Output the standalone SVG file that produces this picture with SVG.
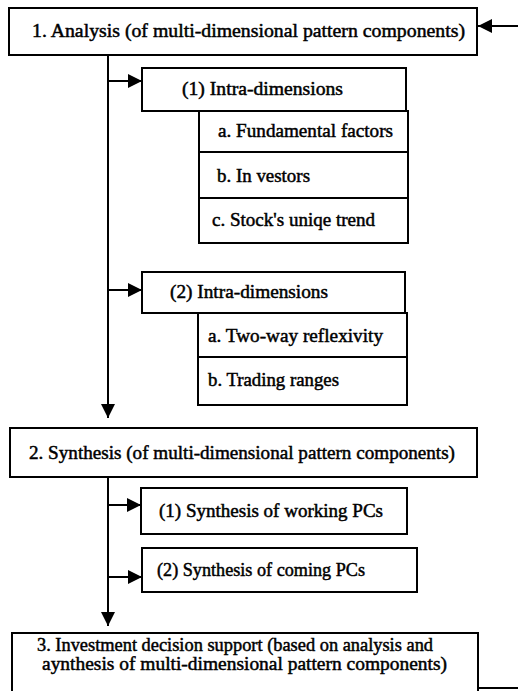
<svg xmlns="http://www.w3.org/2000/svg" width="518" height="691" viewBox="0 0 518 691">
  <defs>
    <marker id="arrow" viewBox="0 0 14 14" refX="14" refY="7" markerWidth="14" markerHeight="14" markerUnits="userSpaceOnUse" orient="auto">
      <path d="M0,0 L14,7 L0,14 Z" fill="#000"/>
    </marker>
  </defs>
  <style>
    .box { fill: #fff; stroke: #000; stroke-width: 2; }
    .lbl { font-family: "Liberation Serif", "Times New Roman", serif; font-size: 19.5px; fill: #000; stroke: #000; stroke-width: 0.5; }
    .wire { fill: none; stroke: #000; stroke-width: 2; }
  </style>
  <rect width="518" height="691" fill="#fff"/>

  <!-- connectors -->
  <g id="connectors">
    <!-- trunk from analysis to synthesis -->
    <line class="wire" x1="108" y1="51" x2="108" y2="418" marker-end="url(#arrow)"/>
    <!-- trunk from synthesis to decision support -->
    <line class="wire" x1="108" y1="477" x2="108" y2="626" marker-end="url(#arrow)"/>
    <!-- branches -->
    <line class="wire" x1="108" y1="81" x2="142" y2="81" marker-end="url(#arrow)"/>
    <line class="wire" x1="108" y1="290" x2="142" y2="290" marker-end="url(#arrow)"/>
    <line class="wire" x1="108" y1="505" x2="141" y2="505" marker-end="url(#arrow)"/>
    <line class="wire" x1="108" y1="577" x2="142" y2="577" marker-end="url(#arrow)"/>
    <!-- feedback loop ends -->
    <line class="wire" x1="518" y1="26" x2="478" y2="26" marker-end="url(#arrow)"/>
    <line class="wire" x1="478" y1="688" x2="518" y2="688"/>
  </g>

  <g id="analysis">
    <rect class="box" x="9" y="8" width="468" height="47"/>
    <text class="lbl" x="32" y="37" textLength="433" lengthAdjust="spacingAndGlyphs">1. Analysis (of multi-dimensional pattern components)</text>
  </g>

  <g id="intra-1">
    <rect class="box" x="142" y="68" width="264" height="43"/>
    <text class="lbl" x="182" y="95" textLength="161" lengthAdjust="spacingAndGlyphs">(1) Intra-dimensions</text>
  </g>
  <g id="intra-1a">
    <rect class="box" x="199" y="111" width="209" height="41"/>
    <text class="lbl" x="218" y="137" textLength="175" lengthAdjust="spacingAndGlyphs">a. Fundamental factors</text>
  </g>
  <g id="intra-1b">
    <rect class="box" x="199" y="152" width="209" height="46"/>
    <text class="lbl" x="217" y="182" textLength="93" lengthAdjust="spacingAndGlyphs">b. In vestors</text>
  </g>
  <g id="intra-1c">
    <rect class="box" x="199" y="198" width="209" height="45"/>
    <text class="lbl" x="212" y="226" textLength="163" lengthAdjust="spacingAndGlyphs">c. Stock's uniqe trend</text>
  </g>

  <g id="intra-2">
    <rect class="box" x="142" y="272" width="263" height="41"/>
    <text class="lbl" x="170" y="298" textLength="158" lengthAdjust="spacingAndGlyphs">(2) Intra-dimensions</text>
  </g>
  <g id="intra-2a">
    <rect class="box" x="198" y="313" width="209" height="44"/>
    <text class="lbl" x="208" y="342" textLength="175" lengthAdjust="spacingAndGlyphs">a. Two-way reflexivity</text>
  </g>
  <g id="intra-2b">
    <rect class="box" x="198" y="357" width="209" height="48"/>
    <text class="lbl" x="208" y="386" textLength="131" lengthAdjust="spacingAndGlyphs">b. Trading ranges</text>
  </g>

  <g id="synthesis">
    <rect class="box" x="10" y="428" width="467" height="49"/>
    <text class="lbl" x="29" y="459" textLength="426" lengthAdjust="spacingAndGlyphs">2. Synthesis (of multi-dimensional pattern components)</text>
  </g>
  <g id="synthesis-1">
    <rect class="box" x="141" y="488" width="266" height="46"/>
    <text class="lbl" x="159" y="517" textLength="224" lengthAdjust="spacingAndGlyphs">(1) Synthesis of working PCs</text>
  </g>
  <g id="synthesis-2">
    <rect class="box" x="142" y="548" width="275" height="44"/>
    <text class="lbl" x="157" y="576" textLength="208" lengthAdjust="spacingAndGlyphs">(2) Synthesis of coming PCs</text>
  </g>

  <g id="decision">
    <rect class="box" x="12" y="633" width="466" height="64"/>
    <text class="lbl" x="37" y="651" textLength="396" lengthAdjust="spacingAndGlyphs">3. Investment decision support (based on analysis and</text>
    <text class="lbl" x="42" y="670" textLength="405" lengthAdjust="spacingAndGlyphs">aynthesis of multi-dimensional pattern components)</text>
  </g>
</svg>
